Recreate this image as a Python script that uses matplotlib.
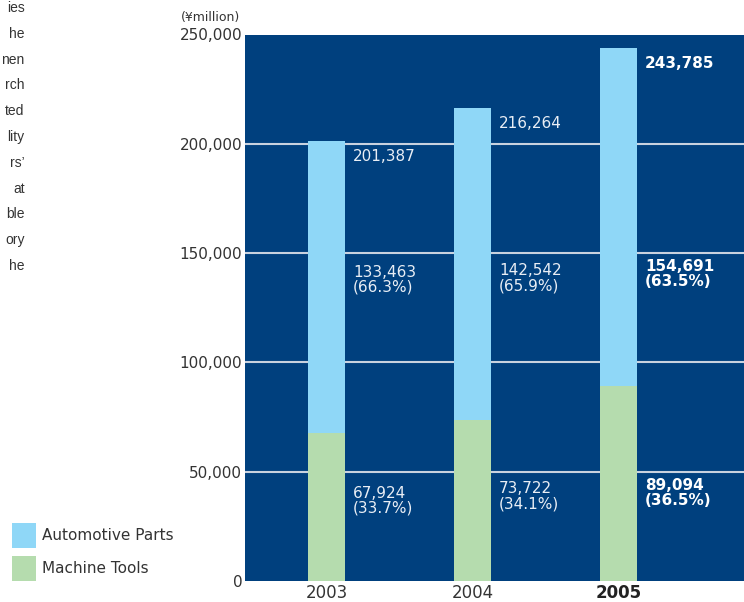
import matplotlib.pyplot as plt
from matplotlib.patches import Rectangle

# sales by segment (¥million)
years = ['2003', '2004', '2005']
machine_tools = [67924, 73722, 89094]
automotive_parts = [133463, 142542, 154691]
totals = [201387, 216264, 243785]
machine_share = ['33.7%', '34.1%', '36.5%']
automotive_share = ['66.3%', '65.9%', '63.5%']
series_names = ['Automotive Parts', 'Machine Tools']
yticks = [0, 50000, 100000, 150000, 200000, 250000]

# tail ends of the justified paragraph to the left of the chart
para_ends = ['ies', 'he', 'nen', 'rch', 'ted', 'lity', 'rs\u2019', 'at', 'ble', 'ory', 'he']

NAVY = '#00407e'
LBLUE = '#8fd7f7'
LGREEN = '#b5dcae'
GRID = '#c9d2df'
INK = '#333333'
LABEL = '#e9eef5'

plt.rcParams['font.family'] = ['DejaVu Sans']

W, H = 744, 602
fig = plt.figure(figsize=(W / 100, H / 100), dpi=100)
ax = fig.add_axes([245 / W, 21 / H, 1 - 245 / W, (581 - 34.5) / H])
ax.set_facecolor(NAVY)
for s in ax.spines.values():
    s.set_visible(False)

x = list(range(len(years)))
bw = 0.253
ax.bar(x, machine_tools, bw, color=LGREEN, zorder=3)
ax.bar(x, automotive_parts, bw, bottom=machine_tools, color=LBLUE, zorder=3)

ax.set_xlim(-0.558, 2.86)
ax.set_ylim(0, 250000)
ax.set_yticks(yticks)
ax.set_yticklabels([f'{v:,}' for v in yticks], fontsize=11, color=INK)
for v in yticks[1:-1]:
    ax.axhline(v, color=GRID, lw=1.5, zorder=1)
ax.set_xticks(x)
ax.set_xticklabels(years, fontsize=12, color=INK)
ax.get_xticklabels()[-1].set_fontweight('bold')
ax.get_xticklabels()[-1].set_color('#222222')
ax.tick_params(length=0)
ax.tick_params(axis='y', pad=2)
ax.tick_params(axis='x', pad=2.5)

# vertical centres of the two-line segment labels
auto_label_y = [137700, 138600, 140400]
mt_label_y = [36800, 38700, 40100]
tx = 0.181
for i in x:
    wt = 'bold' if i == len(years) - 1 else 'normal'
    col = 'white' if wt == 'bold' else LABEL
    ax.annotate(f'{totals[i]:,}', (i + tx, totals[i]), xytext=(0, -11),
                textcoords='offset points', ha='left', va='center',
                fontsize=11, color=col, fontweight=wt)
    ax.text(i + tx, auto_label_y[i],
            f'{automotive_parts[i]:,}\n({automotive_share[i]})',
            ha='left', va='center', fontsize=11, color=col,
            fontweight=wt, linespacing=1.0)
    ax.text(i + tx, mt_label_y[i],
            f'{machine_tools[i]:,}\n({machine_share[i]})',
            ha='left', va='center', fontsize=11, color=col,
            fontweight=wt, linespacing=1.0)

fig.text(181 / W, 1 - 17 / H, '(\u00a5million)', fontsize=9, color=INK,
         ha='left', va='center')

# legend swatches
for k, (name, c) in enumerate(zip(series_names, [LBLUE, LGREEN])):
    top = 523 + 33 * k
    fig.add_artist(Rectangle((12 / W, 1 - (top + 25) / H), 24 / W, 25 / H,
                             transform=fig.transFigure, color=c, lw=0))
    fig.text(42 / W, 1 - (top + 12.5) / H, name, fontsize=11, color=INK,
             ha='left', va='center')

for k, t in enumerate(para_ends):
    fig.text(24.5 / W, 1 - (8 + 25.8 * k) / H, t, fontsize=10,
             family='Liberation Sans', color=INK, ha='right', va='center')

fig.savefig('out.png', dpi=100)
